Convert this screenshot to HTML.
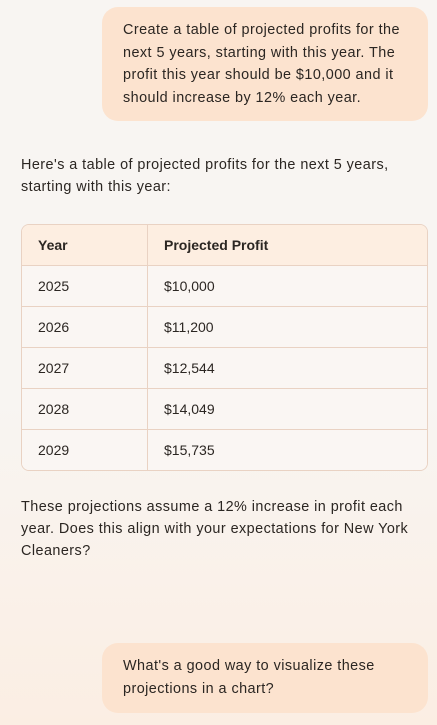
<!DOCTYPE html>
<html><head><meta charset="utf-8"><style>
html,body{margin:0;padding:0}
body{width:437px;height:725px;overflow:hidden;position:relative;font-family:"Liberation Sans",sans-serif;color:#2b2622;background:linear-gradient(#f8f5f2 0,#f8f5f2 55%,#fbeee3 100%)}
.bubble{position:absolute;left:102px;width:326px;background:#fce3cf;border-radius:16px;box-sizing:border-box;padding:12px 4px 0 21px;font-size:14.4px;line-height:22.7px;white-space:nowrap;letter-spacing:0.45px}
p{position:absolute;left:21px;margin:0;font-size:14.4px;line-height:22px;width:415px;white-space:nowrap;letter-spacing:0.45px}
table{position:absolute;left:21px;top:224px;width:407px;border-collapse:separate;border-spacing:0;border:1px solid #e9d2c3;border-radius:8px;overflow:hidden;font-size:14px}
td,th{height:40px;padding:0 0 0 16px;text-align:left;border-bottom:1px solid #e9d2c3;background:#faf6f3}
th{background:#fdeee1;font-weight:bold}
td:first-child,th:first-child{width:109px;border-right:1px solid #e9d2c3}
tr:last-child td{border-bottom:none}
</style></head><body>
<div class="bubble" style="top:7px;height:114px">Create a table of projected profits for the<br>next 5 years, starting with this year. The<br>profit this year should be $10,000 and it<br>should increase by 12% each year.</div>
<p style="top:154px">Here's a table of projected profits for the next 5 years,<br>starting with this year:</p>
<table>
<tr><th>Year</th><th>Projected Profit</th></tr>
<tr><td>2025</td><td>$10,000</td></tr>
<tr><td>2026</td><td>$11,200</td></tr>
<tr><td>2027</td><td>$12,544</td></tr>
<tr><td>2028</td><td>$14,049</td></tr>
<tr><td>2029</td><td>$15,735</td></tr>
</table>
<p style="top:496px">These projections assume a 12% increase in profit each<br>year. Does this align with your expectations for New York<br>Cleaners?</p>
<div class="bubble" style="top:643px;height:70px;padding-top:12px">What's a good way to visualize these<br>projections in a chart?</div>
</body></html>
